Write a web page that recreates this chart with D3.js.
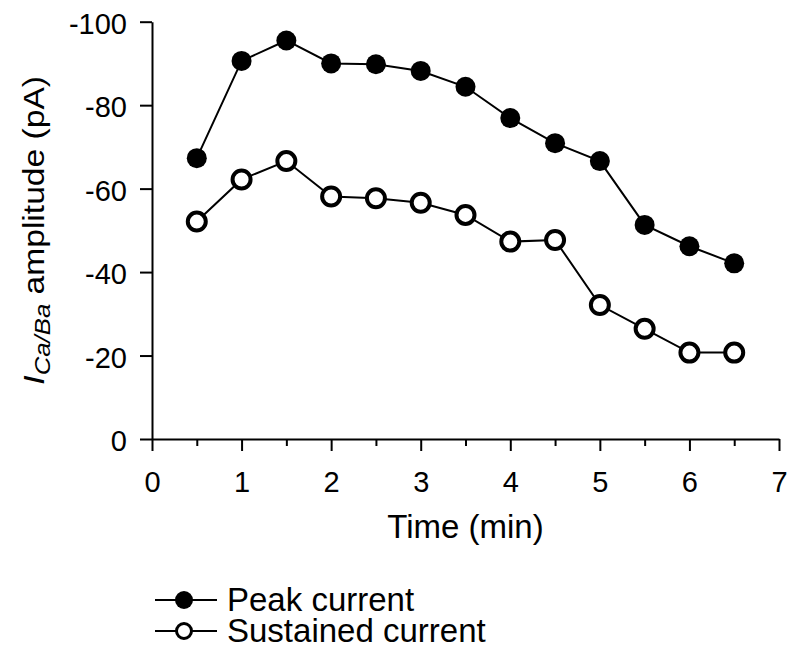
<!DOCTYPE html>
<html>
<head>
<meta charset="utf-8">
<script src="https://cdn.jsdelivr.net/npm/d3@7"></script>
<style>
  body { margin: 0; background: #fff; }
  text { font-family: "Liberation Sans", Arial, sans-serif; fill: #000; }
</style>
</head>
<body>
<svg id="chart" width="789" height="656"></svg>
<script>
// data (time in min, current in pA)
var times = [0.5, 1, 1.5, 2, 2.5, 3, 3.5, 4, 4.5, 5, 5.5, 6, 6.5];
var peakCurrent = [-67.3, -90.6, -95.5, -90.0, -89.8, -88.2, -84.4, -76.9, -70.9, -66.6, -51.3, -46.2, -42.1];
var sustainedCurrent = [-52.1, -62.2, -66.6, -58.1, -57.7, -56.6, -53.7, -47.3, -47.7, -32.1, -26.4, -20.7, -20.7];
var xTicks = [0, 1, 2, 3, 4, 5, 6, 7];
var xMinorTicks = [0.5, 1.5, 2.5, 3.5, 4.5, 5.5, 6.5];
var yTicks = [0, -20, -40, -60, -80, -100];
var seriesNames = ["Peak current", "Sustained current"];

var svg = d3.select("#chart");

var x = d3.scaleLinear().domain([0, 7]).range([152, 779]);
var y = d3.scaleLinear().domain([0, -100]).range([439, 21.7]);

// plain hyphen for the sign, like the original
var fmt = function (d) { return String(d); };

// x axis, major + minor ticks
var xAxis = svg.append("g")
    .attr("transform", "translate(0," + y(0) + ")")
    .call(d3.axisBottom(x).tickValues(xTicks).tickSizeInner(12).tickSizeOuter(0).tickPadding(20)
        .tickFormat(fmt));
svg.append("g")
    .attr("transform", "translate(0," + y(0) + ")")
    .call(d3.axisBottom(x).tickValues(xMinorTicks).tickSize(7).tickFormat(""))
    .select(".domain").remove();

var yAxis = svg.append("g")
    .attr("transform", "translate(" + x(0) + ",0)")
    .call(d3.axisLeft(y).tickValues(yTicks).tickSizeInner(12).tickSizeOuter(0).tickPadding(13)
        .tickFormat(fmt));

svg.selectAll(".domain, .tick line").attr("stroke", "#000").attr("stroke-width", 2);
svg.selectAll(".tick text")
    .style("font-size", "29px")
    .style("font-family", "Liberation Sans, Arial, sans-serif");
yAxis.selectAll(".tick text").attr("dy", "0.4em");

// axis titles
svg.append("text")
    .attr("x", x(3.5))
    .attr("y", 538)
    .attr("text-anchor", "middle")
    .style("font-size", "33px")
    .text("Time (min)");

var yTitle = svg.append("text")
    .attr("transform", "translate(44," + y(-50) + ") rotate(-90) scale(1.12,1)")
    .attr("text-anchor", "middle")
    .style("font-size", "30px");
yTitle.append("tspan").style("font-style", "italic").text("I");
yTitle.append("tspan").style("font-style", "italic").style("font-size", "23px").attr("dy", 6).text("Ca/Ba");
yTitle.append("tspan").attr("dy", -6).text(" amplitude (pA)");

// series
var line = d3.line()
    .x(function (d) { return x(d[0]); })
    .y(function (d) { return y(d[1]); });

var peakData = d3.zip(times, peakCurrent);
var sustData = d3.zip(times, sustainedCurrent);

function drawSeries(data, filled) {
    var g = svg.append("g");
    g.append("path")
        .datum(data)
        .attr("d", line)
        .attr("fill", "none")
        .attr("stroke", "#000")
        .attr("stroke-width", 2);
    g.selectAll("circle")
        .data(data)
        .enter()
        .append("circle")
        .attr("cx", function (d) { return x(d[0]); })
        .attr("cy", function (d) { return y(d[1]); })
        .attr("r", filled ? 10 : 9)
        .attr("fill", filled ? "#000" : "#fff")
        .attr("stroke", "#000")
        .attr("stroke-width", filled ? 0 : 4);
}
drawSeries(sustData, false);
drawSeries(peakData, true);

// legend
var legend = svg.append("g");
var legendRows = legend.selectAll("g")
    .data(seriesNames)
    .enter()
    .append("g")
    .attr("transform", function (d, i) { return "translate(0," + (600 + i * 31) + ")"; });
legendRows.append("line")
    .attr("x1", 155).attr("x2", 217)
    .attr("stroke", "#000").attr("stroke-width", 2);
legendRows.append("circle")
    .attr("cx", 184)
    .attr("r", function (d, i) { return i == 0 ? 9 : 7.5; })
    .attr("fill", function (d, i) { return i == 0 ? "#000" : "#fff"; })
    .attr("stroke", "#000")
    .attr("stroke-width", function (d, i) { return i == 0 ? 0 : 3; });
legendRows.append("text")
    .attr("x", 227)
    .attr("y", 11)
    .style("font-size", "33px")
    .text(function (d) { return d; });
</script>
</body>
</html>
